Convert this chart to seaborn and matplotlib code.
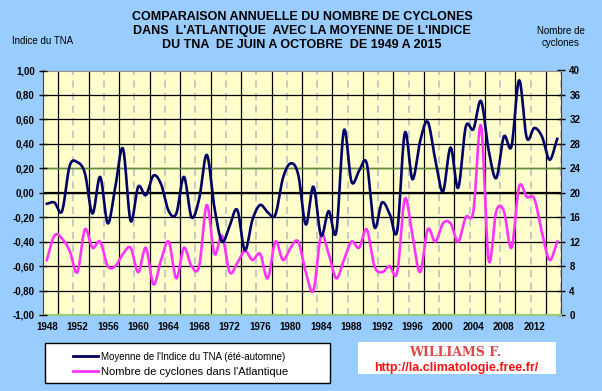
import matplotlib
matplotlib.use('Agg')
import matplotlib.pyplot as plt
from matplotlib.patches import Rectangle
from matplotlib.lines import Line2D
import numpy as np
import seaborn as sns

years = list(range(1948, 2016))

tna = [-0.09, -0.08, -0.15, 0.22, 0.25, 0.16, -0.17, 0.13, -0.25, 0.05,
       0.36, -0.23, 0.05, -0.02, 0.14, 0.07, -0.15, -0.17, 0.13, -0.20,
       -0.05, 0.31, -0.12, -0.40, -0.27, -0.14, -0.47, -0.22, -0.10, -0.16,
       -0.18, 0.12, 0.24, 0.15, -0.26, 0.05, -0.35, -0.15, -0.32, 0.51,
       0.09, 0.18, 0.24, -0.28, -0.08, -0.17, -0.31, 0.49, 0.11, 0.42,
       0.58, 0.27, 0.01, 0.37, 0.04, 0.54, 0.52, 0.75, 0.35, 0.12,
       0.46, 0.38, 0.92, 0.45, 0.53, 0.46, 0.27, 0.44]

cyclones = [9, 13, 12.5, 10.5, 7, 14, 11, 12, 8, 8,
            10, 11, 7, 11, 5, 9, 12, 6, 11, 8,
            8, 18, 10, 13, 7, 8.5, 10.5, 9, 10, 6,
            12, 9, 11, 12, 7, 4, 13, 10, 6, 9,
            12, 11, 14, 8, 7, 8, 7, 19, 13, 7,
            14, 12, 15, 15, 12, 16, 17, 31, 9, 17,
            17, 11, 21, 19.3, 19, 13.5, 9, 12]

left_ticks = [-1.0, -0.8, -0.6, -0.4, -0.2, 0.0, 0.2, 0.4, 0.6, 0.8, 1.0]
right_ticks = [0, 4, 8, 12, 16, 20, 24, 28, 32, 36, 40]

BG = '#99CCFF'
PLOT_BG = '#FFFFCC'
NAVY = '#000066'
PINK = '#FF33FF'


def smooth(x, y, n=16):
    # catmull-rom, close to excel's "smoothed line"
    x = np.asarray(x, float)
    y = np.asarray(y, float)
    yp = np.concatenate([[2 * y[0] - y[1]], y, [2 * y[-1] - y[-2]]])
    t = np.linspace(0, 1, n, endpoint=False)
    xs, ys = [], []
    for i in range(len(x) - 1):
        p0, p1, p2, p3 = yp[i], yp[i + 1], yp[i + 2], yp[i + 3]
        seg = 0.5 * ((2 * p1) + (-p0 + p2) * t + (2 * p0 - 5 * p1 + 4 * p2 - p3) * t ** 2
                     + (-p0 + 3 * p1 - 3 * p2 + p3) * t ** 3)
        xs.append(x[i] + (x[i + 1] - x[i]) * t)
        ys.append(seg)
    xs.append([x[-1]])
    ys.append([y[-1]])
    return np.concatenate(xs), np.concatenate(ys)


plt.rcParams['font.family'] = ['Liberation Sans', 'DejaVu Sans']

W, H = 602, 391
fig = plt.figure(figsize=(W / 100, H / 100), dpi=100, facecolor=BG)
ax = fig.add_axes([43 / W, 1 - 315 / H, (561 - 43) / W, (315 - 70.5) / H])
ax2 = ax.twinx()
ax.set_zorder(ax2.get_zorder() + 1)
ax.patch.set_visible(False)
ax2.patch.set_visible(True)
ax2.set_facecolor(PLOT_BG)

ax.set_xlim(years[0] - 0.5, years[-1] + 0.5)
ax.set_ylim(-1, 1)
ax2.set_ylim(0, 40)

# grid
ax2.set_yticks(right_ticks, [str(v) for v in right_ticks], fontsize=7, fontweight='bold')
ax2.grid(axis='y', color='black', lw=0.9)
ax2.set_axisbelow(True)
for xv in np.arange(years[0] + 1.5, years[-1] + 1, 4):
    ax2.axvline(xv, color='black', lw=0.9, zorder=0.5)
for xv in np.arange(years[0] + 3.5, years[-1] + 1, 4):
    ax2.axvline(xv, color='#C4C4C4', lw=1.3, ls=(0, (4, 3)), zorder=0.5)
ax2.axhline(24, color='#5E8C3A', lw=1.0, zorder=0.6)
ax2.axhline(20, color='black', lw=1.6, zorder=0.6)

sx, sy = smooth(years, cyclones)
sns.lineplot(x=sx, y=sy, ax=ax2, color=PINK, lw=1.9, sort=False)
bx, by = smooth(years, tna)
sns.lineplot(x=bx, y=by, ax=ax, color=NAVY, lw=1.9, sort=False)

ax.set_yticks(left_ticks, [f'{v:.2f}'.replace('.', ',') for v in left_ticks],
              fontsize=7, fontweight='bold')
ax.set_xticks(years[::4], [str(y) for y in years[::4]], fontsize=7, fontweight='bold')
ax.tick_params(axis='x', length=0, pad=5)
ax.tick_params(axis='y', direction='inout', length=6, width=1, pad=3)
ax2.tick_params(axis='y', direction='inout', length=6, width=1, pad=3)
ax.set_xlabel('')
ax.set_ylabel('')
ax2.set_ylabel('')

for s in ax.spines.values():
    s.set_visible(False)
ax2.spines['left'].set_color('#404040')
ax2.spines['right'].set_color('#404040')
ax2.spines['top'].set_color('#909090')
ax2.spines['bottom'].set_color('#9CCB7C')
ax2.spines['bottom'].set_linewidth(1.5)

# titles
title_lines = ["COMPARAISON ANNUELLE DU NOMBRE DE CYCLONES",
               "DANS  L'ATLANTIQUE  AVEC LA MOYENNE DE L'INDICE",
               "DU TNA  DE JUIN A OCTOBRE  DE 1949 A 2015"]
for i, line in enumerate(title_lines):
    fig.text(302 / W, 1 - (17 + 14 * i) / H, line, ha='center', va='center',
             fontsize=9, fontweight='bold')
fig.text(12 / W, 1 - 41 / H, 'Indice du TNA', ha='left', va='center', fontsize=7)
fig.text(561 / W, 1 - 37 / H, 'Nombre de\ncyclones', ha='center', va='center',
         fontsize=7, linespacing=1.2)

# legend box
fig.patches.append(Rectangle((45 / W, 1 - 383 / H), 285 / W, 40 / H, transform=fig.transFigure,
                             facecolor='white', edgecolor='black', lw=1))
handles = [Line2D([], [], color=NAVY, lw=2), Line2D([], [], color=PINK, lw=2)]
leg = fig.legend(handles, ["Moyenne de l'Indice du TNA (été-automne)",
                           "Nombre de cyclones dans l'Atlantique"],
                 loc='upper left', bbox_to_anchor=(66 / W, 1 - 345 / H), frameon=False,
                 fontsize=7, handlelength=2.6, handletextpad=0.3, labelspacing=0.5,
                 borderpad=0.2)
leg.get_texts()[1].set_fontsize(8)

# signature
fig.patches.append(Rectangle((358 / W, 1 - 374 / H), 198 / W, 32 / H, transform=fig.transFigure,
                             facecolor='white', edgecolor='none'))
fig.text(455 / W, 1 - 353 / H, 'WILLIAMS F.', ha='center', va='center', fontsize=9,
         fontweight='bold', family='DejaVu Serif', color='#E04848')
fig.text(456 / W, 1 - 368 / H, 'http://la.climatologie.free.fr/', ha='center', va='center',
         fontsize=9, fontweight='bold', color='#FF1010')

fig.savefig('out.png', dpi=100, facecolor=BG)
